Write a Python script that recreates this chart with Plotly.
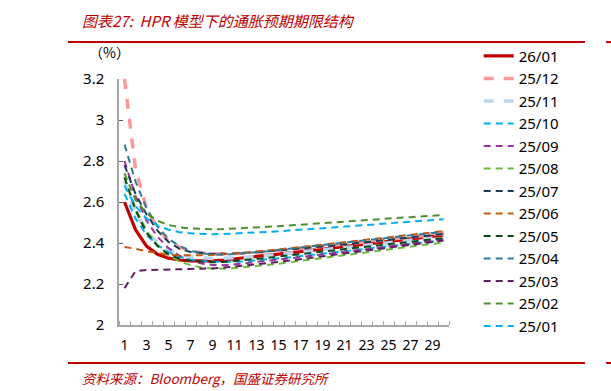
import plotly.graph_objects as go

maturity = list(range(1, 31))

s_2601 = [2.600, 2.465, 2.385, 2.345, 2.326, 2.317, 2.313, 2.312, 2.313, 2.317, 2.322, 2.328, 2.334, 2.340, 2.346,
          2.352, 2.358, 2.364, 2.370, 2.376, 2.382, 2.388, 2.394, 2.400, 2.406, 2.412, 2.418, 2.424, 2.431, 2.438]
s_2512 = [3.200, 2.760, 2.570, 2.470, 2.410, 2.380, 2.362, 2.352, 2.347, 2.346, 2.347, 2.350, 2.354, 2.358, 2.363,
          2.368, 2.373, 2.378, 2.384, 2.389, 2.395, 2.400, 2.406, 2.412, 2.417, 2.423, 2.429, 2.435, 2.440, 2.446]
s_2511 = [2.700, 2.550, 2.460, 2.400, 2.365, 2.345, 2.333, 2.327, 2.325, 2.325, 2.327, 2.330, 2.334, 2.339, 2.344,
          2.349, 2.355, 2.360, 2.366, 2.372, 2.377, 2.383, 2.389, 2.395, 2.401, 2.407, 2.413, 2.419, 2.425, 2.431]
s_2510 = [2.640, 2.520, 2.440, 2.390, 2.355, 2.333, 2.320, 2.312, 2.308, 2.307, 2.308, 2.311, 2.315, 2.320, 2.325,
          2.330, 2.336, 2.342, 2.348, 2.354, 2.360, 2.366, 2.372, 2.378, 2.384, 2.390, 2.396, 2.402, 2.408, 2.414]
s_2509 = [2.800, 2.630, 2.510, 2.430, 2.375, 2.338, 2.313, 2.300, 2.293, 2.292, 2.296, 2.301, 2.307, 2.313, 2.319,
          2.325, 2.331, 2.338, 2.344, 2.350, 2.357, 2.363, 2.370, 2.376, 2.383, 2.389, 2.396, 2.403, 2.410, 2.417]
s_2508 = [2.720, 2.570, 2.460, 2.390, 2.340, 2.310, 2.292, 2.281, 2.276, 2.275, 2.278, 2.282, 2.287, 2.293, 2.299,
          2.306, 2.312, 2.319, 2.326, 2.333, 2.340, 2.347, 2.354, 2.361, 2.368, 2.375, 2.382, 2.389, 2.396, 2.403]
s_2507 = [2.780, 2.640, 2.540, 2.460, 2.405, 2.372, 2.356, 2.350, 2.347, 2.347, 2.349, 2.352, 2.355, 2.359, 2.363,
          2.368, 2.373, 2.378, 2.383, 2.389, 2.394, 2.400, 2.405, 2.411, 2.416, 2.422, 2.428, 2.433, 2.439, 2.445]
s_2506 = [2.380, 2.372, 2.360, 2.350, 2.343, 2.340, 2.339, 2.340, 2.342, 2.345, 2.349, 2.353, 2.358, 2.363, 2.368,
          2.374, 2.380, 2.386, 2.392, 2.398, 2.404, 2.410, 2.416, 2.422, 2.428, 2.434, 2.440, 2.446, 2.452, 2.458]
s_2505 = [2.720, 2.560, 2.450, 2.385, 2.345, 2.324, 2.313, 2.308, 2.306, 2.307, 2.311, 2.316, 2.322, 2.328, 2.334,
          2.340, 2.346, 2.352, 2.358, 2.364, 2.370, 2.376, 2.382, 2.388, 2.394, 2.400, 2.406, 2.412, 2.418, 2.424]
s_2504 = [2.880, 2.700, 2.570, 2.480, 2.420, 2.385, 2.362, 2.350, 2.344, 2.343, 2.346, 2.350, 2.355, 2.360, 2.366,
          2.372, 2.378, 2.384, 2.390, 2.396, 2.402, 2.408, 2.414, 2.420, 2.426, 2.432, 2.438, 2.444, 2.450, 2.455]
s_2503 = [2.180, 2.262, 2.268, 2.269, 2.269, 2.270, 2.271, 2.273, 2.276, 2.280, 2.285, 2.290, 2.296, 2.302, 2.308,
          2.314, 2.321, 2.328, 2.334, 2.341, 2.348, 2.355, 2.362, 2.369, 2.376, 2.383, 2.390, 2.397, 2.404, 2.412]
s_2502 = [2.740, 2.610, 2.545, 2.508, 2.488, 2.477, 2.471, 2.468, 2.467, 2.468, 2.470, 2.473, 2.476, 2.479, 2.482,
          2.486, 2.489, 2.493, 2.497, 2.500, 2.504, 2.508, 2.512, 2.515, 2.519, 2.523, 2.526, 2.530, 2.533, 2.537]
s_2501 = [2.680, 2.580, 2.520, 2.485, 2.465, 2.453, 2.447, 2.444, 2.443, 2.444, 2.446, 2.448, 2.451, 2.454, 2.457,
          2.461, 2.464, 2.468, 2.472, 2.476, 2.480, 2.484, 2.488, 2.492, 2.496, 2.500, 2.504, 2.508, 2.512, 2.516]

series_names = ["26/01", "25/12", "25/11", "25/10", "25/09", "25/08", "25/07",
                "25/06", "25/05", "25/04", "25/03", "25/02", "25/01"]
series_values = [s_2601, s_2512, s_2511, s_2510, s_2509, s_2508, s_2507,
                 s_2506, s_2505, s_2504, s_2503, s_2502, s_2501]

styles = [
    dict(color="#C00000", width=3.2, dash="solid"),
    dict(color="#FF9999", width=3.5, dash="10px,10px"),
    dict(color="#BDD7EE", width=3.5, dash="10px,10px"),
    dict(color="#00B0F0", width=2, dash="7px,5px"),
    dict(color="#993399", width=2, dash="7px,5px"),
    dict(color="#6CBB3C", width=2, dash="7px,5px"),
    dict(color="#1B3A55", width=2, dash="7px,5px"),
    dict(color="#C55A11", width=2, dash="7px,5px"),
    dict(color="#0E4A1E", width=2, dash="7px,5px"),
    dict(color="#2E7A99", width=2, dash="7px,5px"),
    dict(color="#5E1F62", width=2, dash="7px,5px"),
    dict(color="#4E8F2E", width=2, dash="7px,5px"),
    dict(color="#00B0F0", width=2, dash="7px,5px"),
]

fig = go.Figure()
for name, vals, st in zip(series_names, series_values, styles):
    fig.add_trace(go.Scatter(x=maturity, y=vals, name=name, mode="lines",
                             line=dict(color=st["color"], width=st["width"], dash=st["dash"])))

RED = "#C00000"
AX = "#A6A6A6"
fig.update_layout(
    width=611, height=391,
    margin=dict(l=119, r=162, t=79, b=66),
    paper_bgcolor="white", plot_bgcolor="white",
    font=dict(family="Noto Sans, sans-serif", color="#000000"),
    showlegend=True,
    legend=dict(x=1.09, y=1.16, xanchor="left", yanchor="top",
                font=dict(size=15, color="#000000"), tracegroupgap=0,
                maxheight=380,
                bgcolor="rgba(0,0,0,0)", borderwidth=0),
    xaxis=dict(range=[0.5, 30.5], tickmode="linear", tick0=1, dtick=2,
               ticks="", showline=True, linecolor=AX, linewidth=1.5,
               showgrid=False, zeroline=False, tickfont=dict(size=14),
               ticklabelstandoff=6,
               minor=dict(ticks="inside", tick0=0.5, dtick=1, ticklen=4,
                          tickcolor=AX, tickwidth=1, showgrid=False)),
    yaxis=dict(range=[2, 3.2], tickmode="linear", tick0=2, dtick=0.2,
               ticks="inside", ticklen=4, tickcolor="#595959", tickwidth=1,
               showline=True, linecolor=AX, linewidth=1.5,
               showgrid=False, zeroline=False, tickfont=dict(size=15),
               ticklabelstandoff=10),
)

fig.add_annotation(text="图表27:  HPR 模型下的通胀预期期限结构", xref="paper", yref="paper",
                   x=-0.118, y=1.236, xanchor="left", yanchor="middle", showarrow=False,
                   font=dict(family="Noto Sans CJK SC", size=15, color=RED, style="italic"))
fig.add_annotation(text="（%）", xref="paper", yref="paper",
                   x=-0.03, y=1.11, xanchor="center", yanchor="middle", showarrow=False,
                   font=dict(family="Noto Sans CJK SC", size=14, color="#000000"))
fig.add_annotation(text="资料来源：Bloomberg，国盛证券研究所", xref="paper", yref="paper",
                   x=-0.118, y=-0.215, xanchor="left", yanchor="middle", showarrow=False,
                   font=dict(family="Noto Sans CJK SC", size=13.5, color=RED, style="italic"))

for y0 in [1.150, -0.1545]:
    fig.add_shape(type="line", xref="paper", yref="paper", x0=-0.1545, x1=1.412, y0=y0, y1=y0,
                  line=dict(color=RED, width=2))
    fig.add_shape(type="line", xref="paper", yref="paper", x0=1.476, x1=1.52, y0=y0, y1=y0,
                  line=dict(color=RED, width=2))

fig.write_html("out.html")
